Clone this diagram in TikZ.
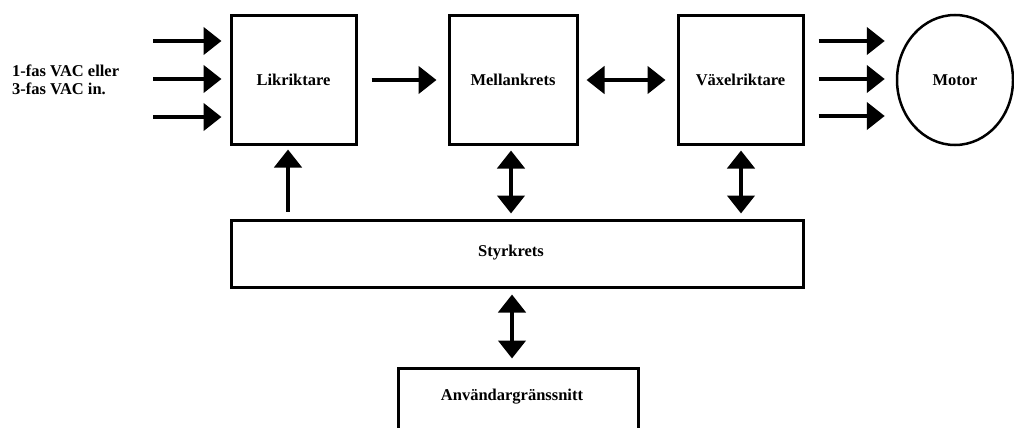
\documentclass[tikz,border=0pt]{standalone}
\usepackage{fontspec}
\setmainfont{Liberation Serif}
\usetikzlibrary{arrows.meta,shapes.geometric}
\tikzset{
  blk/.style={draw=black, line width=3pt, fill=white, inner sep=0pt, font=\fontsize{16.5}{18}\selectfont\bfseries},
  arr/.style={line width=4.5pt, -{Triangle[length=18pt,width=27pt]}},
  darr/.style={line width=4.5pt, {Triangle[length=18pt,width=27pt]}-{Triangle[length=18pt,width=27pt]}},
  lbl/.style={inner sep=0pt, font=\fontsize{16.5}{18}\selectfont\bfseries}
}
\begin{document}
\begin{tikzpicture}[x=1pt,y=-1pt]
\clip (0,0) rectangle (1014,428);
\fill[white] (0,0) rectangle (1014,428);
% blocks
\node[blk, minimum width=125pt, minimum height=128pt] (L) at (293.5,80) {Likriktare};
\node[blk, minimum width=128pt, minimum height=128pt] (M) at (513,80) {Mellankrets};
\node[blk, minimum width=125pt, minimum height=128pt] (V) at (740.5,80) {Växelriktare};
\node[blk, ellipse, line width=2.5pt, minimum width=116pt, minimum height=130pt] (Mo) at (955,80) {Motor};
\node[blk, minimum width=572pt, minimum height=67pt] (S) at (517,253.5) {};
\node[lbl] (St) at (511,253) {Styrkrets};
\node[blk, minimum width=240pt, minimum height=80pt] (U) at (518,408) {};
\node[lbl] (Ut) at (512,397) {Användargränssnitt};
% input label
\node[lbl, anchor=west, align=left] (in) at (12,80) {1-fas VAC eller\\3-fas VAC in.};
% input arrows
\coordinate (i1) at (153,41);
\coordinate (i2) at (153,79);
\coordinate (i3) at (153,117);
\foreach \c in {i1,i2,i3}{
  \draw[arr, shorten >=8pt] (\c) -- (L.west |- \c);
}
% main chain
\draw[arr, shorten <=14pt, shorten >=11pt] (L) -- (M);
\draw[darr, shorten <=8pt, shorten >=11pt] (M) -- (V);
% output arrows
\foreach \y in {41,79,116}{
  \draw[arr, shorten <=14pt, shorten >=11pt] (V.east |- 0,\y) -- (Mo.west |- 0,\y);
}
% control links
\coordinate (a1) at ([xshift=-5.5pt]L.south);
\draw[arr, shorten <=7pt, shorten >=4pt] (S.north -| a1) -- (a1);
\coordinate (a2) at ([xshift=-2pt]M.south);
\draw[darr, shorten <=5pt, shorten >=5pt] (a2) -- (S.north -| a2);
\coordinate (a3) at ([xshift=0.5pt]V.south);
\draw[darr, shorten <=5pt, shorten >=5pt] (a3) -- (S.north -| a3);
\coordinate (a4) at (S.south -| 512,0);
\draw[darr, shorten <=6pt, shorten >=8pt] (a4) -- (U.north -| a4);
\end{tikzpicture}
\end{document}
